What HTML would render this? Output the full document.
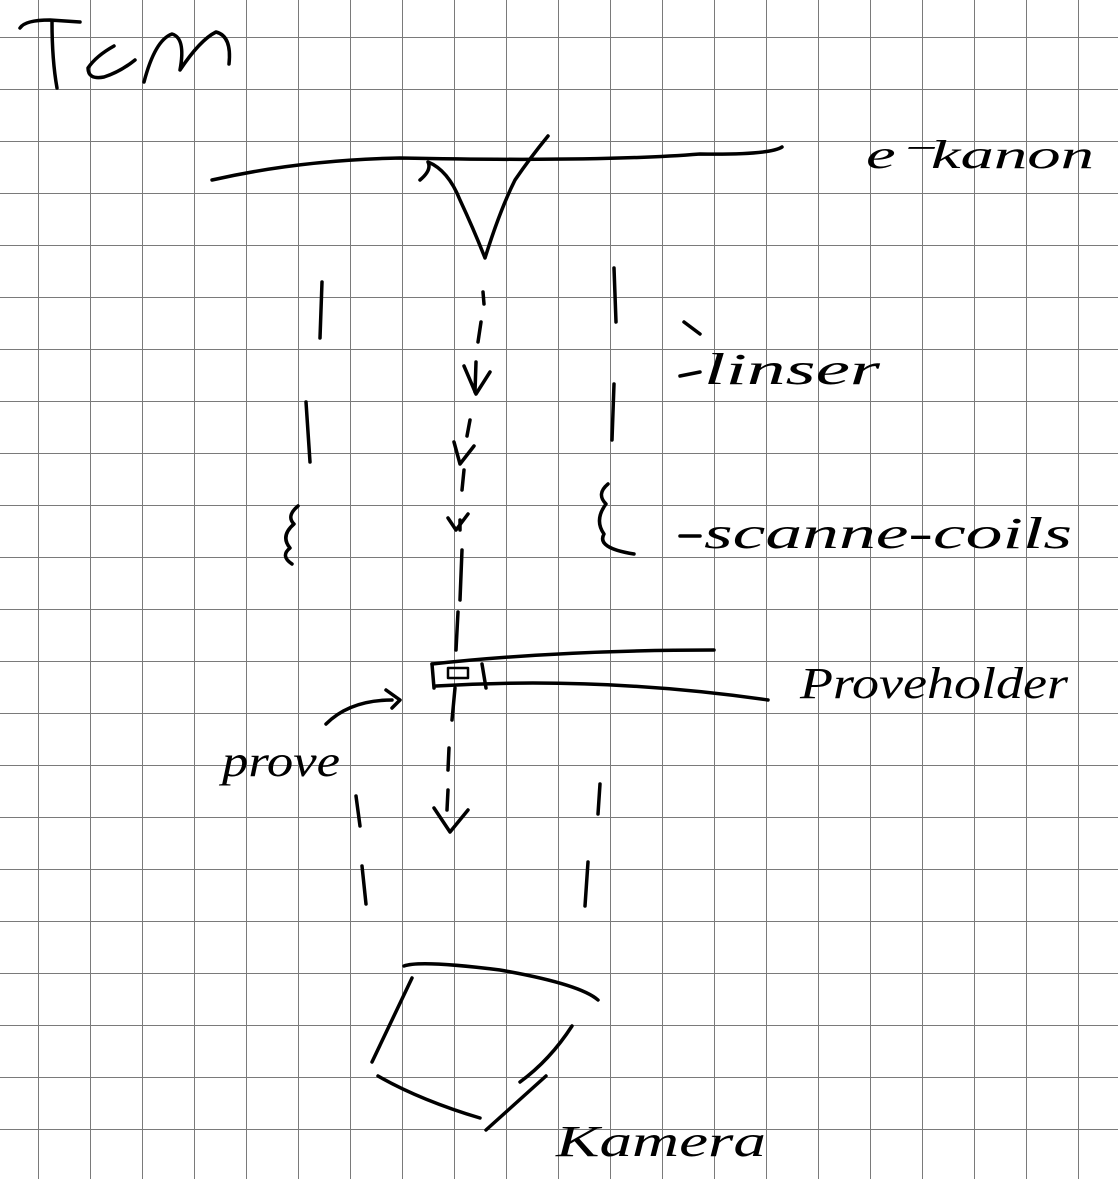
<!DOCTYPE html>
<html><head><meta charset="utf-8"><style>
html,body{margin:0;padding:0;background:#fff}
svg{display:block}
text{font-family:"Liberation Serif",serif;font-style:italic;fill:#000}
</style></head><body>
<svg width="1118" height="1179" viewBox="0 0 1118 1179" xmlns="http://www.w3.org/2000/svg">
<g id="grid" stroke="#7a7a7a" stroke-width="1"></g>
<g fill="none" stroke="#000" stroke-width="3.5" stroke-linecap="round" stroke-linejoin="round">
<path d="M20 28 Q25 20 50 20 L80 22 M52 22 Q52 60 57 88"/>
<path d="M114 46 Q96 56 88 68 Q88 80 104 77 Q120 72 135 60"/>
<path d="M144 82 Q155 40 172 34 Q186 38 180 70 Q200 40 216 32 Q232 36 229 64"/>
<path d="M212 180 Q300 160 400 158 Q600 162 700 154 Q770 155 782 147"/>
<path d="M420 180 Q432 170 428 162 Q448 170 460 200 Q474 230 485 258 Q500 210 515 180 Q530 158 548 136"/>
<path d="M322 282 L320 338"/>
<path d="M306 402 L310 462"/>
<path d="M614 268 L616 322"/>
<path d="M614 384 L612 440"/>
<path d="M298 506 Q286 516 294 524 Q280 536 290 548 Q280 556 292 564"/>
<path d="M608 484 Q596 494 606 504 Q594 520 604 534 Q596 548 634 554"/>
<path d="M483 292 L484 304 M481 322 L478 342 M476 362 L475 392 M470 420 L467 436 M464 470 L462 490 M460 520 L460 530 M462 550 L460 600 M458 612 L456 650 M455 688 L452 720 M449 748 L448 770 M448 790 L447 810"/>
<path d="M464 366 L476 394 L490 372"/>
<path d="M454 442 L460 464 L474 446"/>
<path d="M448 518 L456 530 L468 514"/>
<path d="M434 808 L450 832 L468 810"/>
<path d="M356 796 L360 826"/>
<path d="M362 866 L366 904"/>
<path d="M600 784 L598 814"/>
<path d="M588 862 L585 906"/>
<path d="M432 664 Q560 650 714 650"/>
<path d="M436 686 Q600 676 768 700"/>
<path d="M432 664 L434 688 M482 664 L486 688"/>
<rect x="448" y="668" width="20" height="10" stroke-width="2.5"/>
<path d="M326 724 Q350 700 392 700 M386 690 L400 700 L392 708"/>
<path d="M404 966 Q420 960 500 970 Q580 984 598 1000"/>
<path d="M412 978 L372 1062"/>
<path d="M378 1076 Q420 1100 480 1118"/>
<path d="M572 1026 Q550 1060 520 1082 M546 1076 L486 1130"/>
<path d="M684 322 L700 334 M680 376 L700 372"/>
<path d="M680 536 L700 536"/>
</g>
<g>
<text x="866" y="168" font-size="40" textLength="228" lengthAdjust="spacingAndGlyphs">e⁻kanon</text>
<text x="704" y="384" font-size="44" textLength="176" lengthAdjust="spacingAndGlyphs">linser</text>
<text x="704" y="548" font-size="44" textLength="368" lengthAdjust="spacingAndGlyphs">scanne-coils</text>
<text x="800" y="698" font-size="44" textLength="268" lengthAdjust="spacingAndGlyphs">Proveholder</text>
<text x="222" y="776" font-size="44" textLength="118" lengthAdjust="spacingAndGlyphs">prove</text>
<text x="556" y="1156" font-size="44" textLength="210" lengthAdjust="spacingAndGlyphs">Kamera</text>
</g>
</svg>
<script>
const g=document.getElementById('grid');
for(let x=38.5;x<1118;x+=52){const l=document.createElementNS('http://www.w3.org/2000/svg','line');


l.setAttribute('x1',x);l.setAttribute('x2',x);l.setAttribute('y1',0);l.setAttribute('y2',1179);g.appendChild(l);}
for(let y=37.5;y<1179;y+=52){const l=document.createElementNS('http://www.w3.org/2000/svg','line');


l.setAttribute('x1',0);l.setAttribute('x2',1118);l.setAttribute('y1',y);l.setAttribute('y2',y);g.appendChild(l);}
</script>
</body></html>
